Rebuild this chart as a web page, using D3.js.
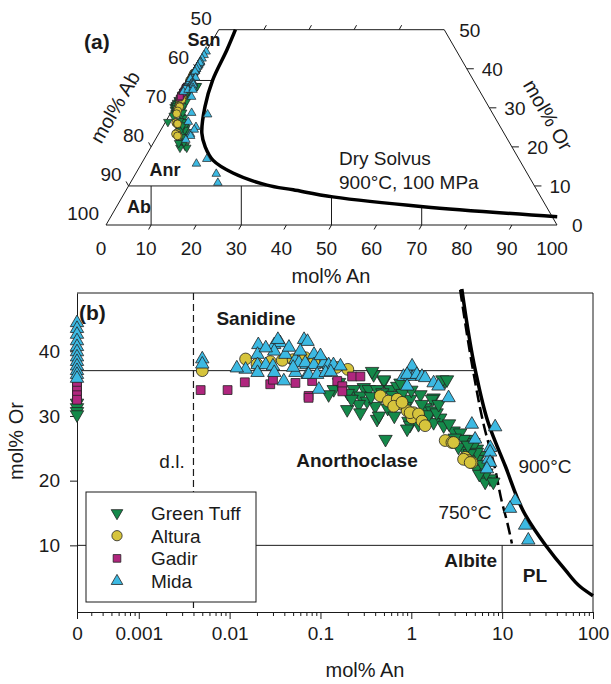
<!DOCTYPE html>
<html>
<head>
<meta charset="utf-8">
<script src="https://d3js.org/d3.v7.min.js"></script>
<style>
body { margin: 0; background: #fff; }
text { font-family: "Liberation Sans", Arial, sans-serif; fill: #1a1a1a; }
</style>
</head>
<body>
<svg id="chart" width="611" height="684"></svg>
<script>
// feldspar compositions, [mol% An, mol% Or]
const greenTuff = [
    [0, 32.0], [0, 31.3], [0, 30.7], [0, 30.2],
    [0.385, 36.4], [0.37, 36.9], [0.5, 35.4], [0.5, 35.6], [0.3, 34.4], [0.232, 34.1], [0.34, 34.1], [0.42, 34.1],
    [0.59, 34.1], [0.14, 34.1], [0.123, 33.3], [0.275, 33.1], [0.326, 32.3], [0.197, 31.0], [0.264, 31.8],
    [0.4, 31.5], [0.7, 34.6], [0.76, 35.1], [0.42, 29.5], [0.93, 29.2], [0.52, 26.4], [0.275, 30.5], [0.44, 30.0],
    [0.97, 28.6], [1.76, 32.8], [2.36, 35.4], [2.2, 35.6], [2.47, 35.6], [1.26, 33.3], [1.69, 32.6], [0.97, 32.6],
    [1.42, 31.3], [1.69, 30.8], [1.15, 30.0], [2.08, 29.7], [1.76, 29.0], [2.27, 28.5], [2.92, 27.7], [3.45, 27.4],
    [4.09, 26.4], [4.83, 25.9], [5.27, 24.9], [5.72, 23.9], [0.9, 28.0], [1.2, 28.7], [3.92, 24.6], [5.27, 23.3],
    [3.76, 26.4], [4.83, 25.4], [5.27, 24.4], [5.27, 21.8], [5.99, 20.8], [7.37, 20.3], [6.5, 19.8], [8.0, 19.8],
    [0.16, 35.2], [0.2, 33.5], [0.22, 32.6], [0.36, 33.0], [0.48, 33.6], [0.62, 33.2], [0.55, 31.2], [0.85, 31.5],
    [0.65, 30.0], [1.3, 31.8], [1.55, 30.2], [1.9, 30.5], [2.6, 28.8], [3.0, 26.6], [3.3, 25.2], [4.4, 24.2],
    [4.2, 25.5], [6.1, 22.5], [6.7, 21.2], [5.6, 21.0], [0.8, 33.5], [1.0, 34.0], [2.0, 31.8]
]
const altura = [
    [0.005, 37.0],
    [0.015, 38.8], [0.028, 38.4], [0.038, 38.6], [0.068, 39.0], [0.104, 38.4], [0.02, 38.0], [0.05, 38.7],
    [0.085, 38.3], [0.12, 37.8], [0.15, 37.5], [0.2, 37.2],
    [0.456, 33.1], [0.56, 32.3], [0.7, 32.6], [0.79, 31.8], [0.64, 31.5], [0.9, 30.8], [1.06, 30.5], [1.2, 30.0],
    [1.02, 29.7], [0.79, 32.1], [0.97, 30.5], [1.2, 30.3], [1.31, 29.2], [1.42, 28.5], [2.36, 26.2], [2.8, 25.9],
    [3.92, 23.6], [4.26, 23.1], [4.64, 22.8], [2.92, 25.9], [3.76, 23.3], [4.45, 22.8]
]
const gadir = [
    [0, 35.3], [0, 34.6], [0, 33.9], [0, 33.2], [0, 32.5],
    [0.0048, 34.0], [0.0095, 34.0], [0.0147, 35.2], [0.028, 34.9], [0.03, 35.6], [0.053, 35.1], [0.074, 33.1],
    [0.223, 36.1], [0.275, 36.1], [0.153, 35.4], [0.174, 34.6], [0.174, 33.8], [0.081, 35.4], [0.074, 32.8]
]
const mida = [
    [0, 44.4], [0, 43.5], [0, 42.6], [0, 41.6], [0, 40.7], [0, 39.9], [0, 39.1], [0, 38.4], [0, 37.7], [0, 37.0],
    [0, 36.4], [0, 35.8],
    [0.005, 38.8], [0.005, 38.0],
    [0.0207, 41.0], [0.031, 41.0], [0.036, 41.3], [0.034, 41.8], [0.066, 41.8], [0.072, 41.5],
    [0.0203, 39.5], [0.031, 40.0], [0.041, 39.5], [0.053, 38.7], [0.085, 39.5],
    [0.015, 37.2], [0.0203, 37.9], [0.0203, 36.7], [0.025, 37.9], [0.03, 37.7], [0.031, 36.7], [0.0395, 35.4],
    [0.053, 36.7], [0.058, 38.2], [0.07, 37.9], [0.072, 36.4], [0.068, 38.2], [0.085, 37.9], [0.109, 38.2],
    [0.123, 37.9], [0.139, 37.9], [0.166, 37.7], [0.074, 36.4], [0.092, 36.4], [0.114, 36.7], [0.096, 34.1],
    [0.025, 40.5], [0.045, 40.6], [0.06, 40.0], [0.1, 39.3], [0.13, 36.8], [0.05, 37.5], [0.012, 37.4],
    [0.82, 36.1], [0.97, 36.1], [1.1, 36.4], [0.9, 34.6], [1.02, 37.7], [0.9, 36.4], [1.15, 36.4], [1.31, 36.1],
    [1.42, 35.9], [1.76, 35.1], [1.99, 34.6], [2.57, 32.8],
    [4.64, 28.7], [8.38, 28.3], [7.4, 25.1], [7.07, 23.3], [5.04, 26.4], [7.37, 24.4], [7.37, 22.8], [6.8, 21.8],
    [13.9, 16.9], [12.2, 15.7], [17.9, 13.1], [19.4, 10.8]
]

// solvus curves [mol% An, mol% Or]
const solvusTernary = [[3.7, 50], [4.4, 44.8], [5.1, 37.1], [6.8, 30.3], [9.5, 23.5], [12, 20], [15.4, 16.6],
    [21.5, 13.3], [30.6, 10.2], [37, 9.0], [46.7, 7.2], [68, 4.7], [99, 2.1]]
const solvus900 = [[3.6, 49.6], [5.06, 37.1], [7.04, 28.9], [10.8, 22.3], [18.0, 14.7], [29.9, 10.06],
    [49.5, 6.2], [72.5, 3.6], [100, 2.2]]
const solvus750 = [[3.45, 49.5], [4.76, 37.2], [6.18, 29], [8.37, 21.8], [9.93, 16.7], [11.3, 13.7], [12.8, 10.3]]

const groupNames = ["Green Tuff", "Altura", "Gadir", "Mida"]
const groupColors = ["#14894a", "#d6c43c", "#b0267e", "#3cb9e2"]
const groupData = [greenTuff, altura, gadir, mida]

const ternaryTicks = [0, 10, 20, 30, 40, 50, 60, 70, 80, 90, 100]
const ternarySideTicks = [0, 10, 20, 30, 40, 50]
const logTicks = [0, 0.001, 0.01, 0.1, 1, 10, 100]
const orTicks = [10, 20, 30, 40]
const detectionLimit = 0.004

const svg = d3.select('#chart')
const ink = "#1a1a1a"

function markerPath(group, size) {
    let type = [d3.symbolTriangle, d3.symbolCircle, d3.symbolSquare, d3.symbolTriangle][group]
    return d3.symbol().type(type).size(size)()
}
function markerTransform(group, x, y) {
    return group === 0 ? `translate(${x},${y}) rotate(180)` : `translate(${x},${y})`
}
const markerSizeA = [32, 48, 34, 32]
const markerSizeB = [78, 110, 78, 78]

// ---------------- panel (a): ternary ----------------
let ta = d3.scaleLinear().domain([0, 100]).range([106, 557])
let tb = d3.scaleLinear().domain([0, 100]).range([225, 225 - 390.6])
function terX(an, or) { return ta(an + or / 2) }
function terY(or) { return tb(or) }

let ga = svg.append('g')

let frame = [[0, 0], [100, 0], [50, 50], [0, 50]]
ga.append('path')
    .attr('d', 'M' + frame.map(p => terX(p[0], p[1]) + ',' + terY(p[1])).join('L') + 'Z')
    .attr('fill', 'none').attr('stroke', ink).attr('stroke-width', 1)

// region lines (An, Or end points)
let ternaryLines = [
    [[0, 10], [30.6, 10]],
    [[0, 37], [5.1, 37]],
    [[10, 0], [5, 10]]
]
ternaryLines.forEach(l => {
    ga.append('line')
        .attr('x1', terX(l[0][0], l[0][1])).attr('y1', terY(l[0][1]))
        .attr('x2', terX(l[1][0], l[1][1])).attr('y2', terY(l[1][1]))
        .attr('stroke', ink).attr('stroke-width', 1)
})
let verticals = [[30, 10], [50, 7.2], [70, 4.7]]
verticals.forEach(v => {
    ga.append('line')
        .attr('x1', ta(v[0])).attr('x2', ta(v[0]))
        .attr('y1', terY(0)).attr('y2', terY(v[1]))
        .attr('stroke', ink).attr('stroke-width', 1)
})

// ticks
ternaryTicks.slice(1, 10).forEach(t => {
    ga.append('line')
        .attr('x1', terX(t, 0)).attr('y1', terY(0))
        .attr('x2', terX(t, 0) - 2.5).attr('y2', terY(0) + 4.5)
        .attr('stroke', ink)
})
ternaryTicks.slice(1, 5).forEach(t => {
    ga.append('line')
        .attr('x1', terX(t, 50)).attr('y1', terY(50))
        .attr('x2', terX(t, 50) + 2.5).attr('y2', terY(50) - 4.5)
        .attr('stroke', ink)
})
ternarySideTicks.slice(1, 5).forEach(t => {
    ga.append('line')
        .attr('x1', terX(100 - t, t)).attr('y1', terY(t))
        .attr('x2', terX(100 - t, t) + 7).attr('y2', terY(t))
        .attr('stroke', ink)
    ga.append('line')
        .attr('x1', terX(0, t)).attr('y1', terY(t))
        .attr('x2', terX(0, t) - 2.5).attr('y2', terY(t) - 4.5)
        .attr('stroke', ink)
})

// tick labels
ternaryTicks.forEach(t => {
    ga.append('text').attr('x', terX(t, 0) - 5).attr('y', 255)
        .attr('text-anchor', 'middle').attr('font-size', 19).text(t)
})
ternarySideTicks.forEach(t => {
    ga.append('text').attr('x', terX(100 - t, t) + 15).attr('y', terY(t) + 7)
        .attr('text-anchor', 'start').attr('font-size', 19).text(t)
    ga.append('text').attr('x', terX(0, t) - 7).attr('y', terY(t) - 5)
        .attr('text-anchor', 'end').attr('font-size', 19).text(100 - t)
})

ga.append('text').attr('x', 331).attr('y', 283).attr('text-anchor', 'middle')
    .attr('font-size', 20).text('mol% An')
ga.append('text').attr('transform', 'translate(115,107) rotate(-60)').attr('text-anchor', 'middle')
    .attr('dy', '0.35em').attr('font-size', 20).text('mol% Ab')
ga.append('text').attr('transform', 'translate(548,115) rotate(60)').attr('text-anchor', 'middle')
    .attr('dy', '0.35em').attr('font-size', 20).text('mol% Or')

ga.append('text').attr('x', 84).attr('y', 49).attr('font-size', 21).attr('font-weight', 'bold').text('(a)')
ga.append('text').attr('x', 204).attr('y', 46).attr('text-anchor', 'middle').attr('font-size', 18)
    .attr('font-weight', 'bold').text('San')
ga.append('text').attr('x', 165).attr('y', 176).attr('text-anchor', 'middle').attr('font-size', 18)
    .attr('font-weight', 'bold').text('Anr')
ga.append('text').attr('x', 139).attr('y', 213).attr('text-anchor', 'middle').attr('font-size', 18)
    .attr('font-weight', 'bold').text('Ab')
ga.append('text').attr('x', 339).attr('y', 165).attr('font-size', 19).text('Dry Solvus')
ga.append('text').attr('x', 339).attr('y', 189).attr('font-size', 19).text('900°C, 100 MPa')

let lineA = d3.line().x(d => terX(d[0], d[1])).y(d => terY(d[1])).curve(d3.curveCatmullRom)
ga.append('path').attr('d', lineA(solvusTernary))
    .attr('fill', 'none').attr('stroke', '#000').attr('stroke-width', 3.5)

groupData.forEach((data, i) => {
    ga.append('g').selectAll('path').data(data).join('path')
        .attr('d', markerPath(i, markerSizeA[i]))
        .attr('transform', d => markerTransform(i, terX(d[0], d[1]), terY(d[1])))
        .attr('fill', groupColors[i]).attr('stroke', '#222').attr('stroke-width', 0.7)
})

// ---------------- panel (b): log An vs Or ----------------
const ZERO_AN = Math.pow(10, -3.68)
let xb = d3.scaleLog().domain([ZERO_AN, 100]).range([77, 593])
let yb = d3.scaleLinear().domain([-0.3, 49]).range([612, 293])
function bx(an) { return xb(an <= 0 ? ZERO_AN : an) }

let gb = svg.append('g')

// minor ticks
let minor = []
for (let e = -4; e < 2; e++) {
    for (let m = 2; m < 10; m++) {
        let v = m * Math.pow(10, e)
        if (v > ZERO_AN && v < 100) minor.push(v)
    }
}
gb.append('g').attr('transform', 'translate(0,612)')
    .call(d3.axisBottom(xb).tickValues(minor).tickSize(4).tickFormat(''))
gb.append('g').attr('transform', 'translate(0,612)')
    .call(d3.axisBottom(xb).tickValues(logTicks.map(t => t === 0 ? ZERO_AN : t)).tickSize(7)
        .tickSizeOuter(0).tickPadding(8)
        .tickFormat((d, i) => logTicks[i]))
gb.append('g').attr('transform', 'translate(77,0)')
    .call(d3.axisLeft(yb).tickValues(orTicks).tickSize(7).tickSizeOuter(0).tickPadding(10))
gb.selectAll('.domain, .tick line').attr('stroke', ink)
gb.selectAll('.tick text').attr('font-size', 19).attr('font-family', '"Liberation Sans", Arial, sans-serif')
    .attr('fill', ink)

gb.append('path')
    .attr('d', `M77,293H593V612`)
    .attr('fill', 'none').attr('stroke', ink).attr('stroke-width', 1)

// composition fields
let fieldLines = [
    [[0, 37], [5.1, 37]],
    [[0, 10], [100, 10]],
    [[10, -0.3], [10, 10]]
]
fieldLines.forEach(l => {
    gb.append('line')
        .attr('x1', bx(l[0][0])).attr('y1', yb(l[0][1]))
        .attr('x2', bx(l[1][0])).attr('y2', yb(l[1][1]))
        .attr('stroke', ink).attr('stroke-width', 1)
})
gb.append('line')
    .attr('x1', bx(detectionLimit)).attr('x2', bx(detectionLimit))
    .attr('y1', yb(49)).attr('y2', yb(-0.3))
    .attr('stroke', ink).attr('stroke-width', 1.2).attr('stroke-dasharray', '7,4')

let lineB = d3.line().x(d => bx(d[0])).y(d => yb(d[1])).curve(d3.curveMonotoneY)
gb.append('path').attr('d', lineB(solvus750))
    .attr('fill', 'none').attr('stroke', '#000').attr('stroke-width', 2.5).attr('stroke-dasharray', '12,5')
gb.append('path').attr('d', lineB(solvus900))
    .attr('fill', 'none').attr('stroke', '#000').attr('stroke-width', 3.5)

groupData.forEach((data, i) => {
    gb.append('g').selectAll('path').data(data).join('path')
        .attr('d', markerPath(i, markerSizeB[i]))
        .attr('transform', d => markerTransform(i, bx(d[0]), yb(d[1])))
        .attr('fill', groupColors[i]).attr('stroke', '#222').attr('stroke-width', 0.8)
})

// labels
gb.append('text').attr('x', 79).attr('y', 320).attr('font-size', 21).attr('font-weight', 'bold').text('(b)')
let fieldLabels = [
    ['Sanidine', 256, 325, 'middle', true],
    ['Anorthoclase', 357, 467, 'middle', true],
    ['Albite', 497, 567, 'end', true],
    ['PL', 535, 582, 'middle', true],
    ['d.l.', 172, 468, 'middle', false],
    ['900°C', 545, 473, 'middle', false],
    ['750°C', 465, 519, 'middle', false]
]
fieldLabels.forEach(f => {
    gb.append('text').attr('x', f[1]).attr('y', f[2]).attr('text-anchor', f[3])
        .attr('font-size', 19).attr('font-weight', f[4] ? 'bold' : 'normal').text(f[0])
})
gb.append('text').attr('x', 365).attr('y', 677).attr('text-anchor', 'middle')
    .attr('font-size', 20).text('mol% An')
gb.append('text').attr('transform', 'translate(16,441) rotate(-90)').attr('text-anchor', 'middle')
    .attr('dy', '0.35em').attr('font-size', 20).text('mol% Or')

// legend
let legend = gb.append('g')
legend.append('rect').attr('x', 86).attr('y', 492).attr('width', 170).attr('height', 110)
    .attr('fill', '#fff').attr('stroke', ink).attr('stroke-width', 1)
groupNames.forEach((name, i) => {
    let y = 513 + i * 22.7
    legend.append('path').attr('d', markerPath(i, markerSizeB[i] * 0.75))
        .attr('transform', markerTransform(i, 117, y))
        .attr('fill', groupColors[i]).attr('stroke', '#222').attr('stroke-width', 0.8)
    legend.append('text').attr('x', 151).attr('y', y + 7).attr('font-size', 19).text(name)
})
</script>
</body>
</html>
